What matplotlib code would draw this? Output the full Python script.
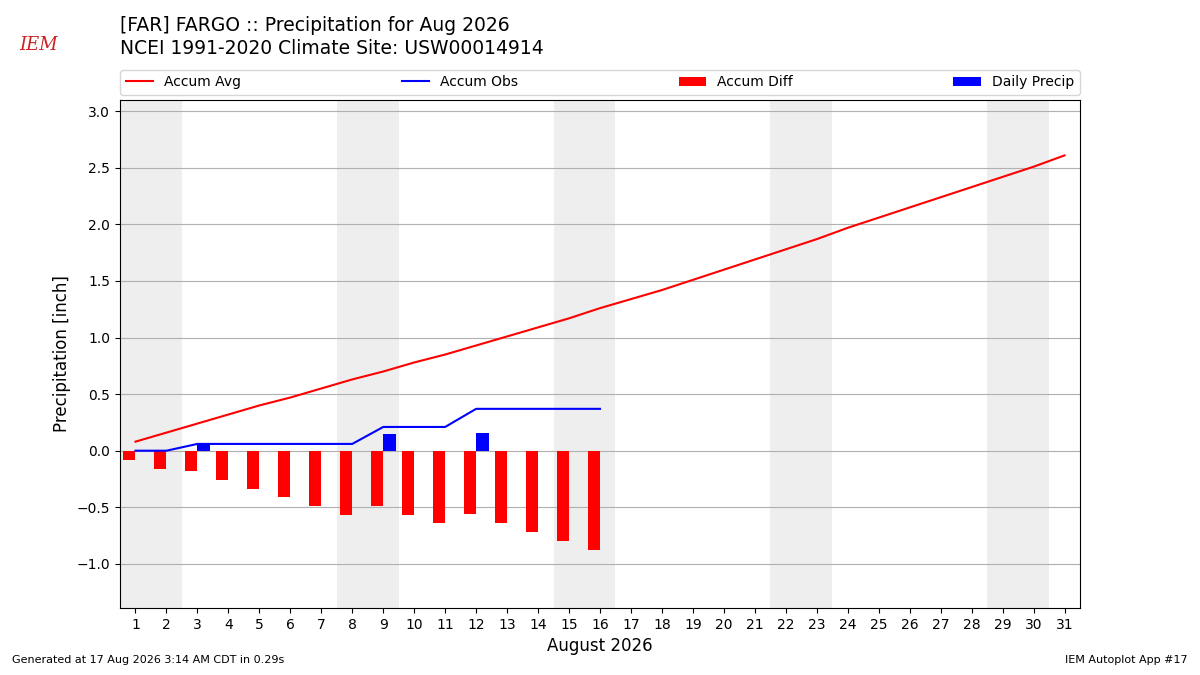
import matplotlib
matplotlib.use("Agg")
import matplotlib.pyplot as plt
import numpy as np

days = list(range(1, 32))
accum_avg = [0.08, 0.16, 0.24, 0.32, 0.40, 0.47, 0.55, 0.63, 0.70, 0.78,
             0.85, 0.93, 1.01, 1.09, 1.17, 1.26, 1.34, 1.42, 1.51, 1.60,
             1.69, 1.78, 1.87, 1.97, 2.06, 2.15, 2.24, 2.33, 2.42, 2.51, 2.61]
obs_days = list(range(1, 17))
accum_obs = [0.0, 0.0, 0.06, 0.06, 0.06, 0.06, 0.06, 0.06, 0.21, 0.21,
             0.21, 0.37, 0.37, 0.37, 0.37, 0.37]
daily_precip = [0.0, 0.0, 0.06, 0.0, 0.0, 0.0, 0.0, 0.0, 0.15, 0.0,
                0.0, 0.16, 0.0, 0.0, 0.0, 0.0]
accum_diff = [-0.08, -0.16, -0.18, -0.26, -0.34, -0.41, -0.49, -0.57, -0.49, -0.57,
              -0.64, -0.56, -0.64, -0.72, -0.80, -0.88]
weekend_starts = [1, 8, 15, 22, 29]
yticks = [-1.0, -0.5, 0.0, 0.5, 1.0, 1.5, 2.0, 2.5, 3.0]

fig = plt.figure(figsize=(12, 6.75), dpi=100)
ax = fig.add_axes([0.1, 0.0993, 0.8, 0.7526])

for ws in weekend_starts:
    ax.axvspan(ws - 0.5, ws + 1.5, color="#eeeeee", zorder=0, lw=0)

ax.plot(days, accum_avg, color="red", lw=1.5, label="Accum Avg", zorder=3)
ax.plot(obs_days, accum_obs, color="blue", lw=1.5, label="Accum Obs", zorder=3)
ax.bar(obs_days, accum_diff, width=-0.4, align="edge", color="red", label="Accum Diff", zorder=2)
ax.bar(obs_days, daily_precip, width=0.4, align="edge", color="blue", label="Daily Precip", zorder=2)

ax.set_xlim(0.5, 31.5)
ax.set_ylim(-1.39, 3.1)
ax.set_xticks(days)
ax.set_yticks(yticks)
ax.yaxis.grid(True, color="#b0b0b0", lw=0.8)
ax.set_axisbelow(True)
ax.set_xlabel("August 2026", fontsize=12)
ax.set_ylabel("Precipitation [inch]", fontsize=12)

ax.legend(loc="lower left", bbox_to_anchor=(0.0, 1.01, 1.0, 0.05), ncol=4,
          mode="expand", borderaxespad=0.0, fontsize=10)

fig.text(0.1, 0.976, "[FAR] FARGO :: Precipitation for Aug 2026\nNCEI 1991-2020 Climate Site: USW00014914",
         fontsize=13.5, va="top", ha="left", linespacing=1.28)
fig.text(0.01, 0.015, "Generated at 17 Aug 2026 3:14 AM CDT in 0.29s", fontsize=8, ha="left", va="bottom")
fig.text(0.99, 0.015, "IEM Autoplot App #17", fontsize=8, ha="right", va="bottom")
fig.text(0.032, 0.933, "IEM", fontsize=13, color="#cc2222", family="DejaVu Serif",
         style="italic", ha="center", va="center")

fig.savefig("out.png", dpi=100)
